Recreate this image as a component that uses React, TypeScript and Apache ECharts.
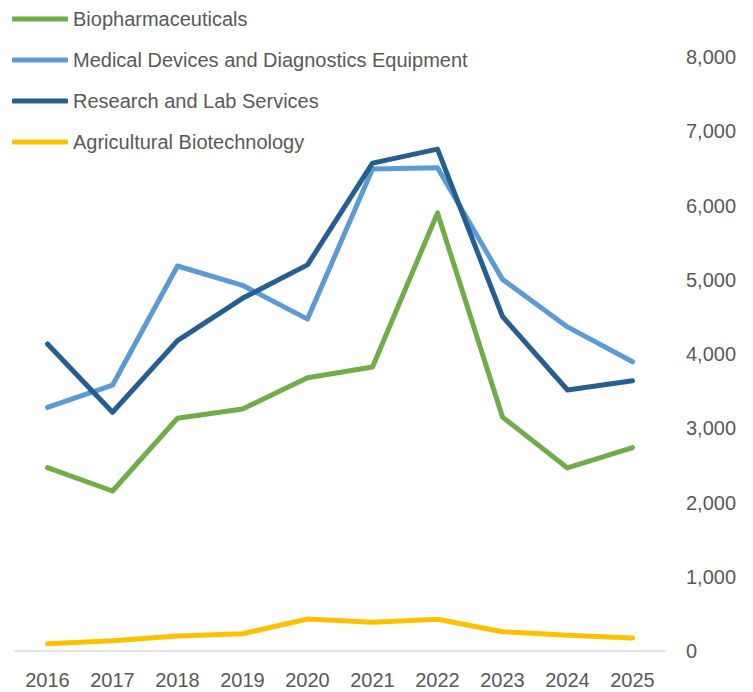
import React, { useEffect, useRef } from "react";
import * as echarts from "echarts";

const years = ["2016", "2017", "2018", "2019", "2020", "2021", "2022", "2023", "2024", "2025"];
const biopharma = [2470, 2155, 3135, 3260, 3680, 3825, 5900, 3150, 2465, 2740];
const medicalDevices = [3280, 3580, 5185, 4925, 4470, 6490, 6510, 5005, 4365, 3895];
const researchLab = [4135, 3215, 4180, 4750, 5200, 6570, 6760, 4505, 3515, 3640];
const agriBiotech = [98, 139, 202, 233, 431, 386, 427, 260, 211, 175];

const seriesNames = [
  "Biopharmaceuticals",
  "Medical Devices and Diagnostics Equipment",
  "Research and Lab Services",
  "Agricultural Biotechnology",
];
const colors = ["#70AD47", "#5B9BD5", "#255E91", "#FFC000"];

const FONT = '"Liberation Sans Narrow", "Arial Narrow", "Liberation Sans", Arial, sans-serif';

export default function App() {
  const ref = useRef<HTMLDivElement>(null);
  useEffect(() => {
    if (!ref.current) return;
    const chart = echarts.init(ref.current, undefined, { renderer: "svg" });
    const data = [biopharma, medicalDevices, researchLab, agriBiotech];
    chart.setOption({
      animation: false,
      backgroundColor: "#ffffff",
      color: colors,
      textStyle: { fontFamily: FONT },
      grid: { left: 15, right: 88, top: 57, bottom: 41, containLabel: false },
      legend: {
        orient: "vertical",
        left: 7,
        top: 2,
        icon: "roundRect",
        itemWidth: 56,
        itemHeight: 5,
        itemGap: 17,
        textStyle: { color: "#595959", fontSize: 20, lineHeight: 24, fontFamily: FONT },
        data: seriesNames,
      },
      xAxis: {
        type: "category",
        data: years,
        boundaryGap: true,
        axisLine: { show: true, lineStyle: { color: "#D9D9D9", width: 1.5 } },
        axisTick: { show: false },
        axisLabel: { color: "#595959", fontSize: 20, margin: 19, interval: 0, fontFamily: FONT },
        splitLine: { show: false },
      },
      yAxis: {
        type: "value",
        position: "right",
        min: 0,
        max: 8000,
        interval: 1000,
        axisLine: { show: false },
        axisTick: { show: false },
        splitLine: { show: false },
        axisLabel: {
          color: "#595959",
          fontSize: 20,
          margin: 21,
          fontFamily: FONT,
          formatter: (v: number) => v.toLocaleString("en-US"),
        },
      },
      series: seriesNames.map((name, i) => ({
        name,
        type: "line",
        data: data[i],
        symbol: "none",
        lineStyle: { width: 5, color: colors[i], cap: "round", join: "round" },
        itemStyle: { color: colors[i] },
      })),
    });
    return () => chart.dispose();
  }, []);
  return (
    <div
      ref={ref}
      style={{ position: "fixed", left: 0, top: 0, width: 753, height: 692 }}
    />
  );
}
